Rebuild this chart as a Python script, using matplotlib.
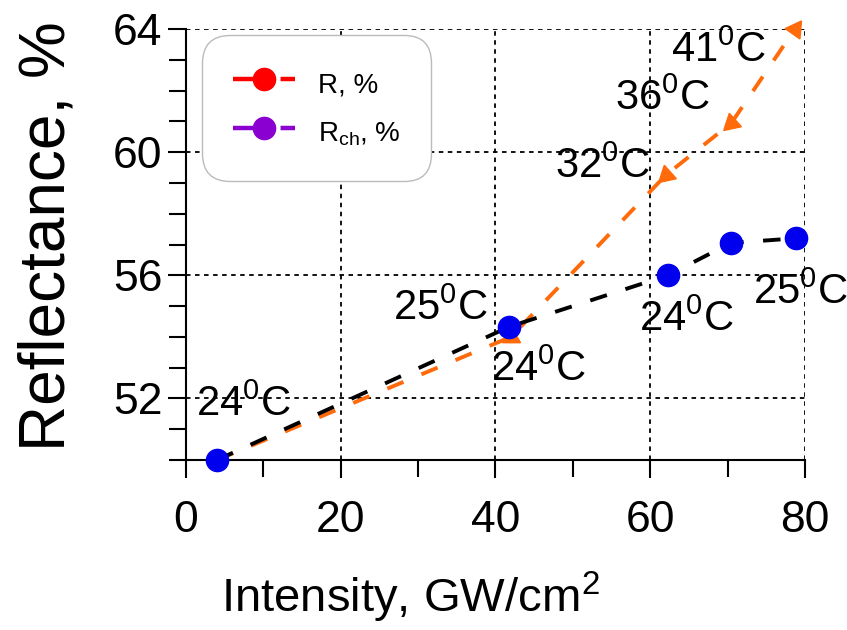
import numpy as np
import matplotlib
matplotlib.use('Agg')
from matplotlib import pyplot as plt
from matplotlib.lines import Line2D

plt.rcParams['font.family'] = ['Liberation Sans', 'DejaVu Sans']
plt.rcParams['mathtext.fontset'] = 'custom'
plt.rcParams['mathtext.rm'] = 'Liberation Sans'
plt.rcParams['mathtext.it'] = 'Liberation Sans'

# orange series (heated), triangles
intensity_r = [4, 42, 62, 70.5, 78.7]
refl_r = [50.0, 54.0, 59.25, 60.95, 64.0]
# blue series (cooled), circles
intensity_b = [4, 41.8, 62.3, 70.4, 78.8]
refl_b = [50.0, 54.33, 56.0, 57.05, 57.2]

# temperature labels: which series, which point, text
temp_series = ['b', 'b', 'r', 'b', 'b', 'r', 'r', 'r']
temp_index = [0, 1, 1, 2, 4, 2, 3, 4]
temp_text = ['24', '25', '24', '24', '25', '32', '36', '41']
# text offsets (points) from the point
temp_offset = [(19, 40), (-50, 13), (20, -24), (13, -32), (3, -39), (-46, 6), (-50, 17), (-55, -16)]

orange = '#ff6a0a'
tri_angle = [0, 0, 132, 132, -35]

fig = plt.figure(figsize=(8.47, 6.3), dpi=100)
ax = fig.add_axes([0.2196, 0.2698, 0.7308, 0.6842])

ax.plot(intensity_r, refl_r, color=orange, lw=2.8, dashes=(4.5, 5), zorder=3)
for x, y, a in zip(intensity_r, refl_r, tri_angle):
    ax.plot(x, y, marker=(3, 0, a), ms=15, color=orange, ls='none', zorder=4, clip_on=False)
ax.plot(intensity_b, refl_b, color='black', lw=2.8, dashes=(4.5, 5), zorder=5)
ax.plot(intensity_b, refl_b, 'o', color='#0000ee', ms=16, zorder=6, clip_on=False)

for s, i, t, off in zip(temp_series, temp_index, temp_text, temp_offset):
    if s == 'b':
        xy = (intensity_b[i], refl_b[i])
    else:
        xy = (intensity_r[i], refl_r[i])
    ax.annotate(t + r'$\mathregular{^0}$C', xy, xytext=off, textcoords='offset points',
                ha='center', va='center', fontsize=30, annotation_clip=False, zorder=7)

ax.set_xlim(0, 80)
ax.set_ylim(50, 64)
ax.set_xticks([0, 20, 40, 60, 80])
ax.set_xticks([10, 30, 50, 70], minor=True)
ax.set_yticks([52, 56, 60, 64])
ax.set_yticks(np.arange(50, 64, 1), minor=True)
ax.tick_params(which='both', direction='out', width=1.5, labelsize=32)
ax.tick_params(axis='x', which='major', length=13, pad=16)
ax.tick_params(axis='y', which='major', length=13, pad=4)
ax.tick_params(which='minor', length=12)
ax.spines['top'].set_visible(False)
ax.spines['right'].set_visible(False)
ax.spines['left'].set_linewidth(1.5)
ax.spines['bottom'].set_linewidth(1.5)
ax.grid(True, which='major', color='black', lw=1.3, ls=(0, (2.5, 2.5)))
ax.set_axisbelow(True)

ax.set_xlabel(r'Intensity, GW/cm$\mathregular{^2}$', fontsize=34)
ax.xaxis.set_label_coords(0.363, -0.255)
ax.set_ylabel('Reflectance, %', fontsize=46)
ax.yaxis.set_label_coords(-0.175, 0.52)

h1 = Line2D([], [], color='#ff0000', lw=3.2, dashes=(9.5, 1.2, 3.5, 5), marker='o', ms=16)
h2 = Line2D([], [], color='#8a00d0', lw=3.2, dashes=(9.5, 1.2, 3.5, 5), marker='o', ms=16)
leg = ax.legend([h1, h2], ['R, %', r'R$\mathregular{_{ch}}$, %'], loc='upper left',
                bbox_to_anchor=(0.026, 0.986), borderaxespad=0, fontsize=20,
                handlelength=2.23, handleheight=1.6, handletextpad=0.85,
                borderpad=1.1, labelspacing=0.47, fancybox=True, framealpha=1)
leg.get_frame().set_edgecolor('#bbbbbb')
leg.get_frame().set_boxstyle('round', pad=0, rounding_size=1.0)
leg.set_zorder(10)

plt.savefig('out.png', dpi=100)
